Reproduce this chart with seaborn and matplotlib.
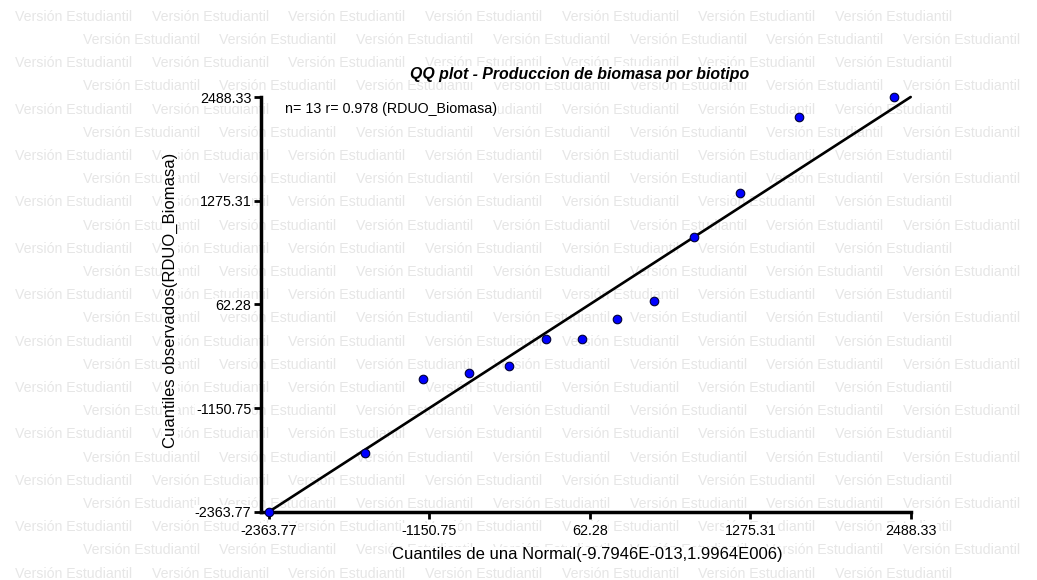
import matplotlib
matplotlib.use("Agg")
import matplotlib.pyplot as plt
import numpy as np
import pandas as pd
import seaborn as sns

# Theoretical normal quantiles (x) and observed residual quantiles (y)
normal_quantiles = [-2363.4, -1641.3, -1198.2, -850.0, -548.2, -268.6, 0.0,
                    268.6, 548.2, 850.0, 1198.2, 1641.3, 2363.4]
observed_quantiles = [-2363.77, -1681.7, -815.9, -738.6, -656.7, -346.2, -344.9,
                      -110.3, 100.2, 852.6, 1360.4, 2256.6, 2488.33]

# Axis ticks (shared by both axes) and the identity reference line ends
tick_values = [-2363.77, -1150.75, 62.28, 1275.31, 2488.33]
tick_labels = ["-2363.77", "-1150.75", "62.28", "1275.31", "2488.33"]
ref_line = [-2363.77, 2488.33]

title = "QQ plot - Produccion de biomasa por biotipo"
stats_note = "n= 13 r= 0.978 (RDUO_Biomasa)"
x_label = "Cuantiles de una Normal(-9.7946E-013,1.9964E006)"
y_label = "Cuantiles observados(RDUO_Biomasa)"
watermark = "Versión Estudiantil"

sns.set_theme(style="white")
plt.rcParams["font.family"] = ["Liberation Sans", "DejaVu Sans"]

W, H = 1037, 580
fig = plt.figure(figsize=(W / 100, H / 100), dpi=100)
fig.patch.set_facecolor("white")

# Tiled watermark behind the plot
for k in range(25):
    yc = 16.7 + 23.2 * k
    x0 = 15.0 if k % 2 == 0 else 82.7
    for j in range(7):
        fig.text((x0 + 136.7 * j) / W, 1 - yc / H, watermark,
                 fontsize=10.2, color="#e6e6e6", ha="left", va="center",
                 zorder=-5)

# Axes placement in pixels
left, right, top, bottom = 261, 910.7, 97, 511.7
ax = fig.add_axes([left / W, 1 - bottom / H, (right - left) / W, (bottom - top) / H])
ax.set_facecolor("none")

df = pd.DataFrame({"teorico": normal_quantiles, "observado": observed_quantiles})
ref = pd.DataFrame({"x": ref_line, "y": ref_line})

sns.lineplot(data=ref, x="x", y="y", ax=ax, color="black", linewidth=1.9,
             zorder=3, clip_on=False)
sns.scatterplot(data=df, x="teorico", y="observado", ax=ax, s=38,
                color="#0000ff", edgecolor="#000033", linewidth=0.8,
                zorder=4, clip_on=False)

ax.set_xlim(-2424.3, 2488.33)
ax.set_ylim(-2363.77, 2488.33)
ax.set_xticks(tick_values, tick_labels)
ax.set_yticks(tick_values, tick_labels)

for side in ("top", "right"):
    ax.spines[side].set_visible(False)
for side in ("left", "bottom"):
    sp = ax.spines[side]
    sp.set_visible(True)
    sp.set_color("black")
    sp.set_linewidth(2.5)

ax.tick_params(axis="both", direction="out", length=5, width=2, color="black",
               labelsize=10.3, labelcolor="black", pad=2)
ax.tick_params(axis="x", pad=3.5)
ax.xaxis.set_ticks_position("bottom")
ax.yaxis.set_ticks_position("left")
for lbl in ax.get_xticklabels() + ax.get_yticklabels():
    lbl.set_bbox(dict(facecolor="white", edgecolor="none", pad=0.5))

ax.set_xlabel(x_label, fontsize=12, color="black", va="center",
              bbox=dict(facecolor="white", edgecolor="none", pad=0.5))
ax.xaxis.set_label_coords((587 - left) / (right - left), (bottom - 555) / (bottom - top))
ax.set_ylabel(y_label, fontsize=12, color="black", va="center",
              bbox=dict(facecolor="white", edgecolor="none", pad=0.5))
ax.yaxis.set_label_coords((170 - left) / (right - left), (bottom - 300.5) / (bottom - top))

ax.set_title(title, fontsize=11.4, fontweight="bold", fontstyle="italic",
             color="black", x=(580 - left) / (right - left),
             y=(bottom - 74) / (bottom - top), va="center", pad=0,
             bbox=dict(facecolor="white", edgecolor="none", pad=0.5))

ax.text((285 - left) / (right - left), (bottom - 109.3) / (bottom - top), stats_note,
        transform=ax.transAxes, fontsize=10.3, ha="left", va="center", color="black",
        bbox=dict(facecolor="white", edgecolor="none", pad=0.5), zorder=5)

fig.savefig("out.png", dpi=100, facecolor="white")
